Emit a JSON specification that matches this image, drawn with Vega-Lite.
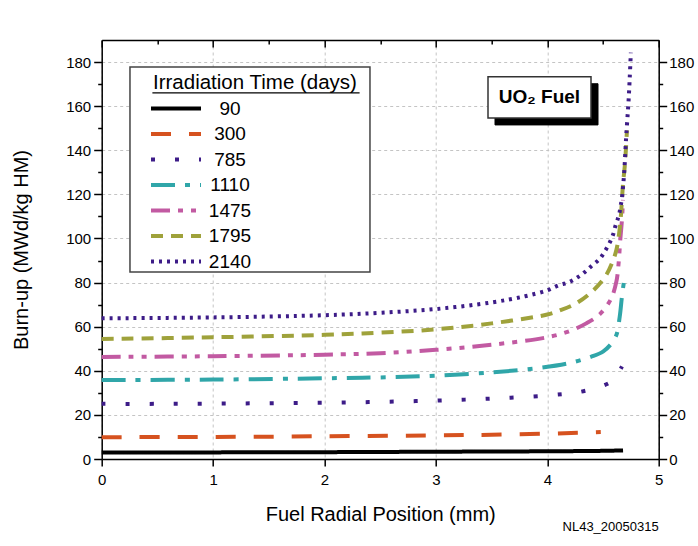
{
  "$schema": "https://vega.github.io/schema/vega-lite/v6.json",
  "width": 557,
  "height": 419,
  "autosize": "none",
  "padding": {"left": 101.7, "top": 40, "right": 39.3, "bottom": 87},
  "background": "white",
  "title": {"text": "NL43_20050315", "orient": "bottom", "anchor": "end", "frame": "group", "fontSize": 13, "fontWeight": "normal", "font": "Arial", "color": "black", "offset": -3},
  "config": {
    "view": {"stroke": null},
    "font": "Arial",
    "axis": {
      "domainColor": "black", "domainWidth": 1.5, "tickColor": "black", "tickWidth": 1.5,
      "labelFont": "Arial", "labelFontSize": 15, "labelColor": "black", "labelFlush": false,
      "titleFont": "Arial", "titleFontSize": 20, "titleFontWeight": "normal", "titleColor": "black",
      "gridColor": "#c4c4c4", "gridDash": [3, 3], "gridWidth": 1
    }
  },
  "datasets": {
    "curves": [
      {"days": "90", "r": 0, "burnup": 3.0}, {"days": "90", "r": 1, "burnup": 3.0}, {"days": "90", "r": 2, "burnup": 3.1}, {"days": "90", "r": 3, "burnup": 3.3}, {"days": "90", "r": 4, "burnup": 3.5}, {"days": "90", "r": 4.5, "burnup": 3.7}, {"days": "90", "r": 4.68, "burnup": 3.9},
      {"days": "300", "r": 0, "burnup": 9.9}, {"days": "300", "r": 1, "burnup": 10.0}, {"days": "300", "r": 2, "burnup": 10.3}, {"days": "300", "r": 3, "burnup": 10.7}, {"days": "300", "r": 3.5, "burnup": 11.0}, {"days": "300", "r": 4, "burnup": 11.5}, {"days": "300", "r": 4.3, "burnup": 11.9}, {"days": "300", "r": 4.48, "burnup": 12.2},
      {"days": "785", "r": 0, "burnup": 25.0}, {"days": "785", "r": 0.5, "burnup": 25.0}, {"days": "785", "r": 1, "burnup": 25.1}, {"days": "785", "r": 1.5, "burnup": 25.3}, {"days": "785", "r": 2, "burnup": 25.5}, {"days": "785", "r": 2.5, "burnup": 25.9}, {"days": "785", "r": 3, "burnup": 26.5}, {"days": "785", "r": 3.5, "burnup": 27.4}, {"days": "785", "r": 4, "burnup": 28.8}, {"days": "785", "r": 4.3, "burnup": 30.5}, {"days": "785", "r": 4.5, "burnup": 33.2}, {"days": "785", "r": 4.6, "burnup": 36.0}, {"days": "785", "r": 4.65, "burnup": 40.0}, {"days": "785", "r": 4.67, "burnup": 42.0},
      {"days": "1110", "r": 0, "burnup": 35.8}, {"days": "1110", "r": 1, "burnup": 36.0}, {"days": "1110", "r": 2, "burnup": 36.6}, {"days": "1110", "r": 2.5, "burnup": 37.0}, {"days": "1110", "r": 3, "burnup": 37.8}, {"days": "1110", "r": 3.5, "burnup": 39.3}, {"days": "1110", "r": 3.9, "burnup": 41.1}, {"days": "1110", "r": 4.2, "burnup": 43.5}, {"days": "1110", "r": 4.4, "burnup": 46.5}, {"days": "1110", "r": 4.5, "burnup": 48.7}, {"days": "1110", "r": 4.57, "burnup": 52.0}, {"days": "1110", "r": 4.62, "burnup": 56.2}, {"days": "1110", "r": 4.65, "burnup": 64.5}, {"days": "1110", "r": 4.67, "burnup": 73.6}, {"days": "1110", "r": 4.69, "burnup": 81.2},
      {"days": "1475", "r": 0, "burnup": 46.3}, {"days": "1475", "r": 1, "burnup": 46.6}, {"days": "1475", "r": 2, "burnup": 47.3}, {"days": "1475", "r": 2.5, "burnup": 48.0}, {"days": "1475", "r": 3, "burnup": 49.5}, {"days": "1475", "r": 3.5, "burnup": 51.8}, {"days": "1475", "r": 4, "burnup": 55.2}, {"days": "1475", "r": 4.2, "burnup": 58.0}, {"days": "1475", "r": 4.35, "burnup": 61.5}, {"days": "1475", "r": 4.47, "burnup": 65.6}, {"days": "1475", "r": 4.57, "burnup": 72.4}, {"days": "1475", "r": 4.62, "burnup": 80.4}, {"days": "1475", "r": 4.64, "burnup": 88.7}, {"days": "1475", "r": 4.655, "burnup": 99.3}, {"days": "1475", "r": 4.67, "burnup": 108.4}, {"days": "1475", "r": 4.68, "burnup": 117.5},
      {"days": "1795", "r": 0, "burnup": 54.4}, {"days": "1795", "r": 1, "burnup": 55.2}, {"days": "1795", "r": 2, "burnup": 56.3}, {"days": "1795", "r": 2.5, "burnup": 57.3}, {"days": "1795", "r": 3, "burnup": 58.8}, {"days": "1795", "r": 3.5, "burnup": 61.5}, {"days": "1795", "r": 4, "burnup": 65.5}, {"days": "1795", "r": 4.11, "burnup": 67.3}, {"days": "1795", "r": 4.26, "burnup": 70.6}, {"days": "1795", "r": 4.41, "burnup": 76.3}, {"days": "1795", "r": 4.52, "burnup": 82.7}, {"days": "1795", "r": 4.58, "burnup": 88.7}, {"days": "1795", "r": 4.62, "burnup": 94.8}, {"days": "1795", "r": 4.645, "burnup": 102.4}, {"days": "1795", "r": 4.66, "burnup": 109.9}, {"days": "1795", "r": 4.67, "burnup": 117.5}, {"days": "1795", "r": 4.68, "burnup": 125.0}, {"days": "1795", "r": 4.695, "burnup": 132.6}, {"days": "1795", "r": 4.705, "burnup": 140.0}, {"days": "1795", "r": 4.715, "burnup": 149.0},
      {"days": "2140", "r": 0, "burnup": 63.8}, {"days": "2140", "r": 1, "burnup": 64.2}, {"days": "2140", "r": 2, "burnup": 65.2}, {"days": "2140", "r": 2.5, "burnup": 66.3}, {"days": "2140", "r": 3, "burnup": 68.0}, {"days": "2140", "r": 3.5, "burnup": 71.0}, {"days": "2140", "r": 3.8, "burnup": 73.8}, {"days": "2140", "r": 4.0, "burnup": 76.5}, {"days": "2140", "r": 4.11, "burnup": 78.9}, {"days": "2140", "r": 4.19, "burnup": 80.1}, {"days": "2140", "r": 4.26, "burnup": 82.0}, {"days": "2140", "r": 4.33, "burnup": 84.5}, {"days": "2140", "r": 4.4, "burnup": 87.7}, {"days": "2140", "r": 4.47, "burnup": 90.7}, {"days": "2140", "r": 4.52, "burnup": 94.5}, {"days": "2140", "r": 4.56, "burnup": 98.1}, {"days": "2140", "r": 4.59, "burnup": 101.7}, {"days": "2140", "r": 4.61, "burnup": 105.4}, {"days": "2140", "r": 4.635, "burnup": 109.2}, {"days": "2140", "r": 4.65, "burnup": 112.2}, {"days": "2140", "r": 4.66, "burnup": 115.2}, {"days": "2140", "r": 4.67, "burnup": 118.2}, {"days": "2140", "r": 4.68, "burnup": 123.5}, {"days": "2140", "r": 4.69, "burnup": 129.6}, {"days": "2140", "r": 4.697, "burnup": 135.6}, {"days": "2140", "r": 4.703, "burnup": 141.6}, {"days": "2140", "r": 4.71, "burnup": 147.7}, {"days": "2140", "r": 4.72, "burnup": 155.2}, {"days": "2140", "r": 4.73, "burnup": 162.8}, {"days": "2140", "r": 4.74, "burnup": 173.0}, {"days": "2140", "r": 4.75, "burnup": 184.3}
    ],
    "note": [{"r": 3.93, "burnup": 164, "label": "UO₂ Fuel"}],
    "legendbox": [{"r": 1.331, "burnup": 131.3}],
    "underline": [{"r": 0.455, "r2": 2.315, "burnup": 166}]
  },
  "layer": [
    {
      "data": {"name": "curves"},
      "mark": {"type": "line", "strokeWidth": 4, "interpolate": "catmull-rom"},
      "encoding": {
        "x": {"field": "r", "type": "quantitative", "scale": {"domain": [0, 5], "nice": false},
          "axis": {"orient": "bottom", "title": "Fuel Radial Position (mm)", "values": [0, 0.5, 1, 1.5, 2, 2.5, 3, 3.5, 4, 4.5, 5], "format": "d",
            "labelExpr": "datum.value % 1 == 0 ? datum.label : ''", "labelPadding": 6, "titlePadding": 17,
            "tickSize": {"condition": {"test": "datum.value % 1 == 0", "value": 7}, "value": 4},
            "grid": true, "gridOpacity": {"condition": {"test": "datum.value % 1 == 0", "value": 1}, "value": 0}}},
        "y": {"field": "burnup", "type": "quantitative", "scale": {"domain": [0, 190], "nice": false},
          "axis": {"orient": "left", "title": "Burn-up (MWd/kg HM)", "values": [0, 10, 20, 30, 40, 50, 60, 70, 80, 90, 100, 110, 120, 130, 140, 150, 160, 170, 180],
            "labelExpr": "datum.value % 20 == 0 ? datum.label : ''", "labelPadding": 3, "titlePadding": 34,
            "tickSize": {"condition": {"test": "datum.value % 20 == 0", "value": 8}, "value": 4},
            "grid": true, "gridOpacity": {"condition": {"test": "datum.value % 20 == 0", "value": 1}, "value": 0}}},
        "color": {"field": "days", "type": "nominal",
          "scale": {"domain": ["90", "300", "785", "1110", "1475", "1795", "2140"], "range": ["#000000", "#d6521f", "#3d1c88", "#30a6a9", "#c25aa2", "#9fa23b", "#3d1c88"]},
          "legend": {"title": "Irradiation Time (days)", "orient": "none", "legendX": 51.3, "legendY": 33,
            "symbolType": "M-2.5,0H2.5", "symbolSize": 400, "symbolStrokeWidth": 4, "symbolOffset": 11,
            "labelFontSize": 19, "labelFont": "Arial", "labelColor": "black", "labelAlign": "center", "labelOffset": 42,
            "titleFontSize": 20.5, "titleFont": "Arial", "titleFontWeight": "normal", "titleColor": "black", "titleAnchor": "start", "titlePadding": 3, "titleLimit": 500,
            "padding": 0, "rowPadding": 3.5}},
        "strokeDash": {"field": "days", "type": "nominal",
          "scale": {"domain": ["90", "300", "785", "1110", "1475", "1795", "2140"], "range": [[1, 0], [20, 18], [4, 20], [24, 10, 5, 10], [19, 8, 5, 8, 5, 8], [12, 8], [3, 5]]},
          "legend": {"title": "Irradiation Time (days)"}}
      }
    },
    {
      "data": {"name": "legendbox"},
      "mark": {"type": "point", "shape": "M-1,-0.854H1V0.854H-1Z", "size": 57600, "filled": true, "fill": "white", "stroke": "#444", "strokeWidth": 1.5, "opacity": 1},
      "encoding": {
        "x": {"field": "r", "type": "quantitative", "scale": {"domain": [0, 5], "nice": false},
          "axis": {"orient": "top", "title": null, "labels": false, "values": [0, 0.5, 1, 1.5, 2, 2.5, 3, 3.5, 4, 4.5, 5], "grid": false,
            "tickSize": {"condition": {"test": "datum.value % 1 == 0", "value": -7}, "value": -4}}},
        "y": {"field": "burnup", "type": "quantitative", "scale": {"domain": [0, 190], "nice": false},
          "axis": {"orient": "right", "title": null, "values": [0, 10, 20, 30, 40, 50, 60, 70, 80, 90, 100, 110, 120, 130, 140, 150, 160, 170, 180], "grid": false,
            "labelExpr": "datum.value % 20 == 0 ? datum.label : ''", "labelPadding": 2,
            "tickSize": {"condition": {"test": "datum.value % 20 == 0", "value": 8}, "value": 4}}}
      }
    },
    {
      "data": {"name": "underline"},
      "mark": {"type": "rule", "color": "black", "strokeWidth": 1.3},
      "encoding": {
        "x": {"field": "r", "type": "quantitative", "scale": {"domain": [0, 5], "nice": false}, "axis": null},
        "x2": {"field": "r2"},
        "y": {"field": "burnup", "type": "quantitative", "scale": {"domain": [0, 190], "nice": false}, "axis": null}
      }
    },
    {
      "data": {"name": "note"},
      "mark": {"type": "point", "shape": "M-1,-0.4H1V0.4H-1Z", "size": 10609, "filled": true, "fill": "black", "stroke": "black", "strokeWidth": 1, "opacity": 1, "xOffset": 7, "yOffset": 7},
      "encoding": {
        "x": {"field": "r", "type": "quantitative", "scale": {"domain": [0, 5], "nice": false}, "axis": null},
        "y": {"field": "burnup", "type": "quantitative", "scale": {"domain": [0, 190], "nice": false}, "axis": null}
      }
    },
    {
      "data": {"name": "note"},
      "mark": {"type": "point", "shape": "M-1,-0.4H1V0.4H-1Z", "size": 10609, "filled": true, "fill": "white", "stroke": "#333", "strokeWidth": 1.5, "opacity": 1},
      "encoding": {
        "x": {"field": "r", "type": "quantitative", "scale": {"domain": [0, 5], "nice": false}, "axis": null},
        "y": {"field": "burnup", "type": "quantitative", "scale": {"domain": [0, 190], "nice": false}, "axis": null}
      }
    },
    {
      "data": {"name": "note"},
      "mark": {"type": "text", "font": "Arial", "fontSize": 19, "fontWeight": "bold", "color": "black", "align": "center", "baseline": "middle"},
      "encoding": {
        "x": {"field": "r", "type": "quantitative", "scale": {"domain": [0, 5], "nice": false}, "axis": null},
        "y": {"field": "burnup", "type": "quantitative", "scale": {"domain": [0, 190], "nice": false}, "axis": null},
        "text": {"field": "label"}
      }
    }
  ],
  "resolve": {"axis": {"x": "independent", "y": "independent"}}
}
